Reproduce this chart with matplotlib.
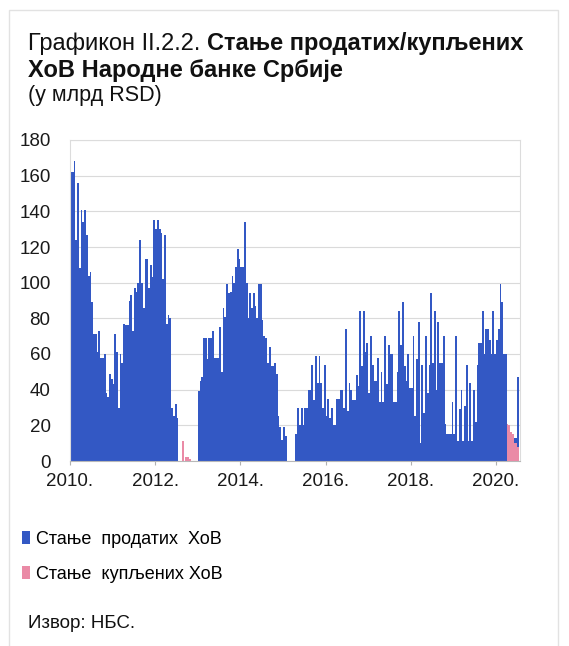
import numpy as np
import matplotlib
matplotlib.use("Agg")
import matplotlib.pyplot as plt
from matplotlib.patches import Rectangle

plt.rcParams['font.family'] = ['Liberation Sans', 'DejaVu Sans']

# semi-monthly observations, Jan 2010 .. Jul 2020 (bn RSD)
sold_2010 = [162,162,168,124,156,108,141,134,141,127,104,106,89,71,71,61,73,58,58,60,38,36,49,46]
sold_2011 = [43,71,61,30,60,55,77,76,76,90,93,73,97,95,100,124,100,86,113,113,97,110,103,135]
sold_2012 = [130,135,130,128,102,127,77,82,80,30,25,32,24,0,0,0,0,0,0,0,0,0,0,0]
sold_2013 = [39,45,47,69,69,57,69,69,73,58,58,58,75,50,86,81,99,94,95,104,100,109,119,113]
sold_2014 = [109,109,134,100,80,94,86,94,87,80,99,99,79,70,69,55,64,53,53,55,49,25,19,12]
sold_2015 = [19,14,0,0,0,0,0,15,30,20,30,20,30,30,40,40,54,34,59,44,59,44,30,54]
sold_2016 = [25,35,24,30,20,20,35,35,40,40,30,74,28,44,40,34,34,48,42,84,53,84,61,66]
sold_2017 = [38,70,54,45,45,58,33,50,33,70,43,65,60,60,33,33,50,84,65,89,53,45,60,41]
sold_2018 = [41,70,25,57,78,10,54,27,70,38,54,94,55,84,40,78,55,55,70,21,15,15,15,33]
sold_2019 = [15,70,11,29,40,11,31,54,11,44,11,40,22,54,66,66,84,60,74,74,68,60,84,60]
sold_2020 = [68,74,99,89,60,60,0,0,0,0,13,13,47]

bought_2012 = [0]*15 + [11,0,2,2,1] + [0]*4
bought_2020 = [0,0,0,0,0,0,21,20,16,15,10,10,8]

sold = (sold_2010 + sold_2011 + sold_2012 + sold_2013 + sold_2014 + sold_2015 +
        sold_2016 + sold_2017 + sold_2018 + sold_2019 + sold_2020)
bought = [0]*48 + bought_2012 + [0]*(24*7) + bought_2020

year_labels = ["2010.", "2012.", "2014.", "2016.", "2018.", "2020."]
periods_per_year = 24
y_ticks = list(range(0, 181, 20))

legend_labels = ["Стање  продатих  ХоВ", "Стање  купљених ХоВ"]
title_regular = "Графикон II.2.2. "
title_bold_1 = "Стање продатих/купљених"
title_bold_2 = "ХоВ Народне банке Србије"
subtitle = "(у млрд RSD)"
source = "Извор: НБС."

BLUE = "#3358c4"
PINK = "#ea8aa6"

W, H = 569, 646
fig = plt.figure(figsize=(W/100, H/100), dpi=100)
fig.patch.set_facecolor("white")

ax = fig.add_axes([70/W, 1-461/H, 450/W, 321/H])
x = np.arange(len(sold)) + 0.5
b1 = ax.bar(x, sold, width=1.0, color=BLUE, linewidth=0, zorder=2)
b2 = ax.bar(x, bought, width=1.0, color=PINK, linewidth=0, zorder=3)

ax.set_xlim(0, len(sold) + 0.5)
ax.set_ylim(0, 180)
ax.set_yticks(y_ticks)
ax.set_yticklabels([str(v) for v in y_ticks], fontsize=13.5, color="#1a1a1a")
ax.set_xticks([periods_per_year * 2 * k for k in range(len(year_labels))])
ax.set_xticklabels(year_labels, fontsize=13.5, color="#1a1a1a")
ax.tick_params(axis="y", length=0, pad=14)
ax.tick_params(axis="x", length=3, width=0.8, color="#b0b0b0", pad=6)
ax.grid(axis="y", color="#dadada", linewidth=0.8, zorder=0)
ax.set_axisbelow(True)
for s in ["left", "right", "top"]:
    ax.spines[s].set_color("#dcdcdc")
    ax.spines[s].set_linewidth(0.8)
ax.spines["bottom"].set_color("#b8b8b8")
ax.spines["bottom"].set_linewidth(0.8)

# titles
t1 = fig.text(28/W, 1-50/H, title_regular, fontsize=17, va="baseline", ha="left", color="#111111")
fig.canvas.draw()
r = fig.canvas.get_renderer()
bb = t1.get_window_extent(renderer=r)
fig.text(bb.x1/W, 1-50/H, title_bold_1, fontsize=17, fontweight="bold", va="baseline", ha="left", color="#111111")
fig.text(28/W, 1-77/H, title_bold_2, fontsize=17, fontweight="bold", va="baseline", ha="left", color="#111111")
fig.text(28/W, 1-101/H, subtitle, fontsize=15.5, va="baseline", ha="left", color="#111111")

fig.legend([b1, b2], legend_labels, loc="upper left", bbox_to_anchor=(22/W, 1-531/H),
           frameon=False, fontsize=13, handlelength=0.45, handleheight=0.75,
           handletextpad=0.3, labelspacing=1.0, borderpad=0, borderaxespad=0)

fig.text(28/W, 1-628/H, source, fontsize=13.5, va="baseline", ha="left", color="#111111")

fig.patches.append(Rectangle((9/W, -0.05), (558-9)/W, 1.05-10/H, transform=fig.transFigure,
                             fill=False, edgecolor="#e2e2e2", linewidth=1.0))

fig.savefig("out.png", dpi=100, facecolor="white")
